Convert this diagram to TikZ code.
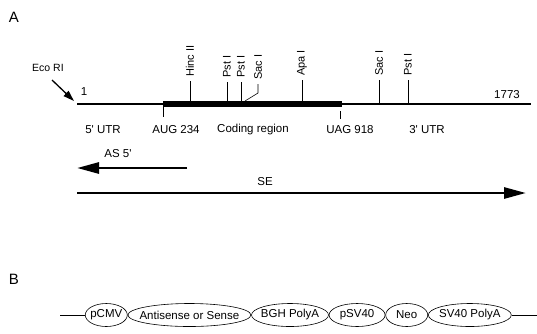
\documentclass[tikz,border=0pt]{standalone}
\usepackage{fontspec}
\setmainfont{Liberation Sans}
\usepackage{tikz}
\usetikzlibrary{positioning,arrows.meta,shapes.geometric}

\tikzset{
  sitelabel/.style={rotate=90,anchor=west,inner xsep=4pt,inner ysep=1pt,font=\fontsize{11}{12}\selectfont},
  sitetick/.style={line width=0.6pt},
  regionlabel/.style={inner sep=0pt,font=\fontsize{11.5}{13}\selectfont},
  part/.style={ellipse,draw,line width=0.6pt,fill=white,inner xsep=-8pt,inner ysep=0pt,
               minimum height=23pt,font=\fontsize{11.5}{13}\selectfont},
}

\begin{document}
\begin{tikzpicture}[x=1pt,y=-1pt]
\useasboundingbox (0,0) rectangle (537,333);

% panel A
\node[font=\fontsize{15}{17}\selectfont] (panelA) at (14,17) {A};

\coordinate (start) at (77,104);
\coordinate (stop) at (531,104);
\coordinate (aug) at (163,104);
\coordinate (uag) at (342,104);
\draw[line width=2pt] (start) -- (stop);
\draw[line width=5.5pt] (aug) -- (uag);
\draw[sitetick] (aug) -- ++(0,13);
\draw[sitetick] (340,111) -- (340,119);

\node[regionlabel] (one) at (84,92) {1};
\node[regionlabel] (len) at (507,95) {1773};

% Eco RI
\node[regionlabel,font=\fontsize{10.5}{12}\selectfont] (eco) at (48,68) {Eco RI};
\coordinate (ecotail) at (52,80);
\coordinate (ecotip) at (74,101);
\draw[line width=1.3pt,-{Triangle[length=11pt,width=7pt]}] (ecotail) -- (ecotip);

% restriction sites
\node[sitelabel] (hinc) at (190,81) {Hinc II};
\draw[sitetick] (hinc.west) -- (hinc.west |- start);
\node[sitelabel] (pstA) at (227,82) {Pst I};
\draw[sitetick] (pstA.west) -- (pstA.west |- start);
\node[sitelabel] (pstB) at (241,82) {Pst I};
\draw[sitetick] (pstB.west) -- (pstB.west |- start);
\node[sitelabel] (sacA) at (258,84) {Sac I};
\draw[sitetick] (sacA.west) -- ++(0,9) -- ++(-13,8);
\node[sitelabel] (apa) at (302,80) {Apa I};
\draw[sitetick] (apa.west) -- (apa.west |- start);
\node[sitelabel] (sacB) at (379,80) {Sac I};
\draw[sitetick] (sacB.west) -- (sacB.west |- start);
\node[sitelabel] (pstC) at (408,80) {Pst I};
\draw[sitetick] (pstC.west) -- (pstC.west |- start);

% regions
\node[regionlabel] (utr5) at (103,130) {5\textquotesingle\ UTR};
\node[regionlabel] (augl) at (176,130) {AUG 234};
\node[regionlabel] (coding) at (253,130) {Coding region};
\node[regionlabel] (uagl) at (350,130) {UAG 918};
\node[regionlabel] (utr3) at (427,130) {3\textquotesingle\ UTR};

% constructs
\node[regionlabel] (asl) at (118,154) {AS 5\textquotesingle};
\coordinate (as0) at (187,168);
\coordinate (as1) at (77,168);
\draw[line width=2.8pt,-{Triangle[length=22pt,width=11pt]}] (as0) -- (as1);

\node[regionlabel] (sel) at (265,182) {SE};
\coordinate (se0) at (77,193);
\coordinate (se1) at (526,193);
\draw[line width=2.8pt,-{Triangle[length=22pt,width=11pt]}] (se0) -- (se1);

% panel B
\node[font=\fontsize{15}{17}\selectfont] (panelB) at (14,279) {B};

\coordinate (vecL) at (60,315);
\coordinate (vecR) at (537,315);
\node[part,minimum width=42pt,anchor=west] (pcmv) at (85,315) {pCMV};
\node[part,minimum width=123pt,right=0pt of pcmv] (insert) {Antisense or Sense};
\node[part,minimum width=77pt,right=0pt of insert] (bgh) {BGH PolyA};
\node[part,minimum width=56pt,right=0pt of bgh] (psv) {pSV40};
\node[part,minimum width=42pt,right=0pt of psv] (neo) {Neo};
\node[part,minimum width=83pt,right=0pt of neo] (svpa) {SV40 PolyA};
\draw[line width=0.6pt] (vecL) -- (pcmv.west);
\draw[line width=0.6pt] (svpa.east) -- (vecR);
\end{tikzpicture}
\end{document}
